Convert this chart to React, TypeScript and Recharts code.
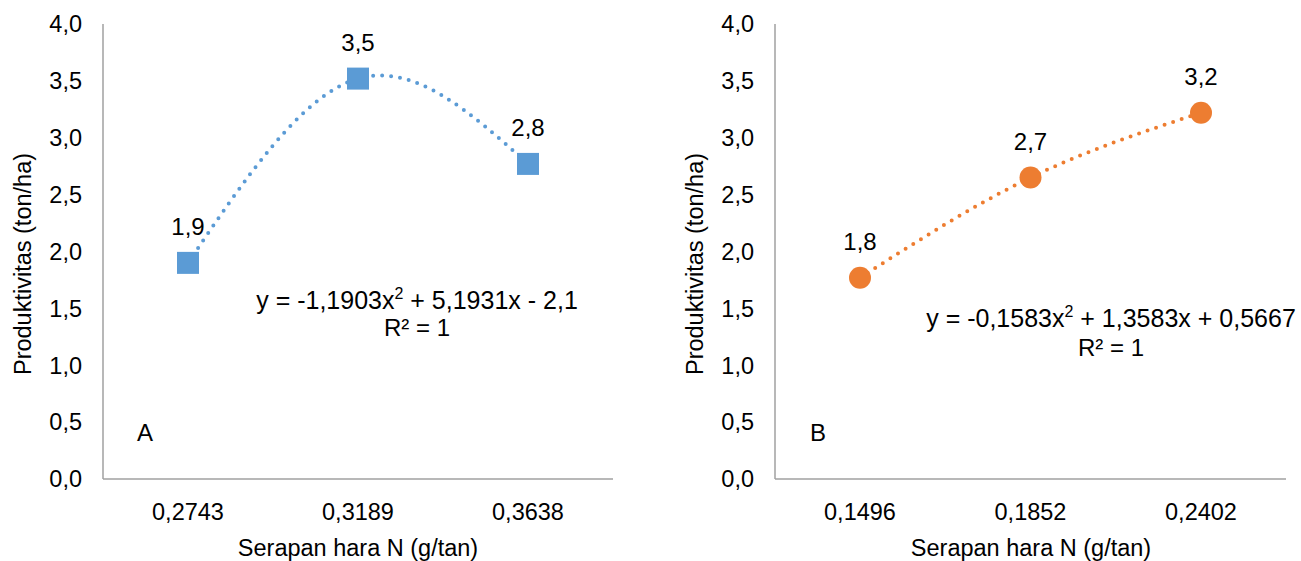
import React from 'react';
import { LineChart, Line, XAxis, YAxis, LabelList } from 'recharts';

const categoriesA = ['0,2743', '0,3189', '0,3638'];
const valuesA = [1.9, 3.52, 2.77];
const labelsA = ['1,9', '3,5', '2,8'];

const categoriesB = ['0,1496', '0,1852', '0,2402'];
const valuesB = [1.77, 2.65, 3.22];
const labelsB = ['1,8', '2,7', '3,2'];

const yTicks = [0, 0.5, 1, 1.5, 2, 2.5, 3, 3.5, 4];

const dataA = categoriesA.map((c, i) => ({ x: c, y: valuesA[i], label: labelsA[i] }));
const dataB = categoriesB.map((c, i) => ({ x: c, y: valuesB[i], label: labelsB[i] }));

const FONT = '"Liberation Sans", Arial, sans-serif';
const BLUE = '#5B9BD5';
const ORANGE = '#ED7D31';
const AXIS = '#A0A0A0';

const fmt = (v: number) => v.toFixed(1).replace('.', ',');

const SquareDot = (props: any) => {
  const { cx, cy } = props;
  if (cx == null || cy == null) return null;
  return <rect key={`sq-${cx}`} x={cx - 11} y={cy - 11} width={22} height={22} fill={BLUE} />;
};

const CircleDot = (props: any) => {
  const { cx, cy } = props;
  if (cx == null || cy == null) return null;
  return <circle key={`ci-${cx}`} cx={cx} cy={cy} r={11} fill={ORANGE} />;
};

const renderLabel = (p: any) => (
  <text
    x={p.x}
    y={p.y - 36}
    textAnchor="middle"
    dominantBaseline="central"
    fontSize={24}
    fontFamily={FONT}
    fill="#000"
  >
    {p.value}
  </text>
);

const tickStyle = { fontSize: 23.5, fill: '#000', fontFamily: FONT };

function Panel({ data, color, dot, yAxisWidth, marginRight, width }: any) {
  return (
    <LineChart
      width={width}
      height={561}
      data={data}
      margin={{ top: 24, right: marginRight, bottom: 0, left: 0 }}
    >
      <XAxis
        dataKey="x"
        height={82}
        padding={{ left: 85, right: 85 }}
        tickLine={false}
        tickSize={0}
        tickMargin={24}
        interval={0}
        tick={tickStyle}
        axisLine={{ stroke: AXIS, strokeWidth: 1.5 }}
      />
      <YAxis
        width={yAxisWidth}
        domain={[0, 4]}
        ticks={yTicks}
        tickFormatter={fmt}
        tickLine={false}
        tickSize={0}
        tickMargin={21}
        interval={0}
        tick={tickStyle}
        axisLine={{ stroke: AXIS, strokeWidth: 1.5 }}
      />
      <Line
        dataKey="y"
        type="natural"
        stroke={color}
        strokeWidth={4}
        strokeDasharray="0 9"
        strokeLinecap="round"
        dot={dot}
        activeDot={false}
        isAnimationActive={false}
      >
        <LabelList dataKey="label" content={renderLabel} />
      </Line>
    </LineChart>
  );
}

export default function App() {
  const t = { fontFamily: FONT, fill: '#000' };
  return (
    <div style={{ position: 'absolute', left: 0, top: 0, width: 1301, height: 561, background: '#fff' }}>
      <div style={{ position: 'absolute', left: 0, top: 0 }}>
        <Panel data={dataA} color={BLUE} dot={SquareDot} yAxisWidth={103} marginRight={37} width={650} />
      </div>
      <div style={{ position: 'absolute', left: 650, top: 0 }}>
        <Panel data={dataB} color={ORANGE} dot={CircleDot} yAxisWidth={125} marginRight={15} width={651} />
      </div>
      <svg
        width={1301}
        height={561}
        style={{ position: 'absolute', left: 0, top: 0, pointerEvents: 'none' }}
      >
        <text {...t} fontSize={23.5} textAnchor="middle" dominantBaseline="central" transform="translate(23,264) rotate(-90)">
          Produktivitas (ton/ha)
        </text>
        <text {...t} fontSize={23.5} textAnchor="middle" dominantBaseline="central" transform="translate(695,264) rotate(-90)">
          Produktivitas (ton/ha)
        </text>
        <text {...t} fontSize={23.5} textAnchor="middle" dominantBaseline="central" x={358} y={548}>
          Serapan hara N (g/tan)
        </text>
        <text {...t} fontSize={23.5} textAnchor="middle" dominantBaseline="central" x={1031} y={548}>
          Serapan hara N (g/tan)
        </text>
        <text {...t} fontSize={24} textAnchor="middle" dominantBaseline="central" x={145} y={432}>A</text>
        <text {...t} fontSize={24} textAnchor="middle" dominantBaseline="central" x={818} y={432}>B</text>
        <text {...t} fontSize={25} textAnchor="middle" x={417} y={309}>
          y = -1,1903x<tspan fontSize={16} dy={-10}>2</tspan>
          <tspan dy={10}> + 5,1931x - 2,1</tspan>
        </text>
        <text {...t} fontSize={24} textAnchor="middle" x={417} y={336}>R² = 1</text>
        <text {...t} fontSize={25} textAnchor="middle" x={1111} y={327}>
          y = -0,1583x<tspan fontSize={16} dy={-10}>2</tspan>
          <tspan dy={10}> + 1,3583x + 0,5667</tspan>
        </text>
        <text {...t} fontSize={24} textAnchor="middle" x={1111} y={356}>R² = 1</text>
      </svg>
    </div>
  );
}
